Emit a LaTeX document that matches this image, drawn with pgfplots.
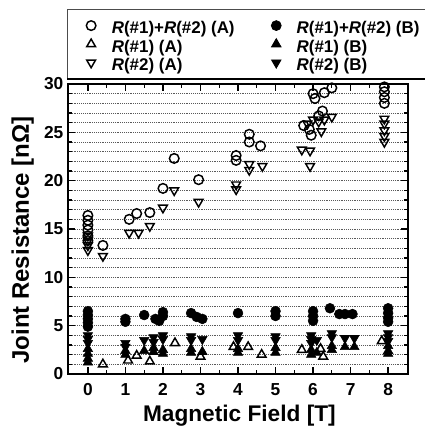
\documentclass[border=0pt]{standalone}
\usepackage{fontspec}
\setmainfont{Liberation Sans}
\usepackage{pgfplots}
\pgfplotsset{compat=1.18}

\begin{document}
\begin{tikzpicture}
\begin{axis}[
  scale only axis,
  width=255pt, height=217.5pt,
  xmin=-0.53, xmax=8.53, ymin=0, ymax=30,
  xtick={0,...,8}, minor x tick num=1,
  ytick={0,5,...,30}, minor y tick num=4,
  tick align=inside,
  major tick length=5pt, minor tick length=3pt,
  every tick/.style={black, line width=1pt},
  axis line style={line width=1.3pt},
  ymajorgrids, yminorgrids,
  major grid style={densely dotted, black!65, line width=0.7pt},
  minor grid style={densely dotted, black!65, line width=0.7pt},
  /pgf/number format/assume math mode=true,
  ticklabel style={font=\bfseries\fontsize{13}{13}\selectfont},
  xticklabel style={yshift=-3.5pt},
  xlabel={Magnetic Field [T]},
  ylabel={Joint Resistance [nΩ]},
  every axis x label/.style={at={(axis description cs:0.504,-0.1655)}, anchor=base,
    font=\bfseries\fontsize{17}{17}\selectfont},
  every axis y label/.style={at={(axis description cs:-0.133,0.462)}, anchor=center,
    rotate=90, font=\bfseries\fontsize{18}{18}\selectfont},
  legend columns=2,
  legend cell align=left,
  legend style={name=leg, at={(0,1)}, anchor=south west, xshift=-0.75pt, yshift=3.75pt,
    draw=black!70, line width=0.6pt, inner xsep=0pt, inner ysep=5pt,
    font=\bfseries\fontsize{12.7}{13}\selectfont,
    nodes={inner xsep=0pt, inner ysep=0pt, text height=12.9pt, text depth=1pt},
    column sep=0pt, row sep=0pt},
  legend image code/.code={\path (0pt,0pt) (32.25pt,0pt);
    \draw[#1] plot coordinates {(17.25pt,0pt)};},
  open/.style={only marks, black, line width=1.1pt, mark options={solid}},
  filled/.style={only marks, black, mark options={solid, fill=black}},
]

% R(#1)+R(#2) (A)
\addplot[open, mark=o, mark size=3.6pt] coordinates {
  (0,16.4) (0,15.9) (0,15.4) (0,14.9) (0,14.3) (0,13.8)
  (0.4,13.3)
  (1.1,16.0) (1.3,16.6) (1.65,16.7) (2.0,19.2) (2.3,22.3) (2.95,20.1)
  (3.95,22.6) (3.95,22.1) (4.3,24.8) (4.3,24.0) (4.6,23.6)
  (5.75,25.7) (5.9,25.3) (5.95,24.7) (6.0,29.0) (6.05,28.5) (6.3,29.1)
  (6.5,29.6) (6.25,27.2) (6.15,26.7)
  (7.9,29.7) (7.9,29.2) (7.9,28.6) (7.9,28.0)
};
\addlegendentry{\makebox[105.75pt][l]{\textit{R}(\#1)+\textit{R}(\#2) (A)}}

% R(#1)+R(#2) (B)
\addplot[filled, mark=*, mark size=3.7pt] coordinates {
  (0,6.5) (0,6.1) (0,5.7) (0,5.3) (0,4.9)
  (1.0,5.7) (1.0,5.4)
  (1.5,6.1) (1.8,5.7) (1.9,5.5) (2.0,6.4) (2.0,6.0)
  (2.75,6.3) (2.9,5.9) (3.05,5.7)
  (4.0,6.3)
  (5.0,6.5) (5.0,6.0)
  (6.0,6.5) (6.0,6.0) (6.0,5.5) (6.45,6.8) (6.7,6.2) (6.85,6.2) (7.05,6.2)
  (8.0,6.8) (8.0,6.3) (8.0,5.8) (8.0,5.4)
};
\addlegendentry{\makebox[110pt][l]{\textit{R}(\#1)+\textit{R}(\#2) (B)}}

% R(#1) (A)
\addplot[open, mark=triangle, mark size=3.8pt] coordinates {
  (0.4,1.0) (1.07,1.4) (1.3,1.9) (1.65,1.3) (2.32,3.2) (3.0,1.8)
  (3.88,2.8) (4.27,2.8) (4.63,2.0) (5.7,2.5) (6.2,2.6) (6.27,1.8) (7.83,3.4)
};
\addlegendentry{\textit{R}(\#1) (A)}

% R(#1) (B)
\addplot[filled, mark=triangle*, mark size=4.1pt] coordinates {
  (0,2.6) (0,2.1) (0,1.6) (0,1.2)
  (1.0,2.4) (1.0,2.0) (1.5,2.4) (1.75,2.7) (1.75,2.3) (2.0,2.5) (2.0,2.1)
  (2.75,2.6) (2.75,2.2) (3.05,2.3)
  (4.0,2.6) (4.0,2.2) (5.0,2.7) (5.0,2.2)
  (5.95,2.5) (5.95,2.0) (6.1,2.2) (6.5,2.9) (6.5,2.5) (6.85,2.8) (7.1,2.8)
  (8.0,2.9) (8.0,2.4) (8.0,2.1)
};
\addlegendentry{\textit{R}(\#1) (B)}

% R(#2) (A)
\addplot[open, mark=triangle, mark size=3.8pt, mark options={rotate=180}] coordinates {
  (0,14.3) (0,13.8) (0,13.3) (0,12.8) (0.4,12.2)
  (1.1,14.6) (1.35,14.6) (1.65,15.3) (2.0,17.2) (2.3,19.0) (2.95,17.8)
  (3.95,19.6) (3.95,19.1) (4.3,21.7) (4.3,21.1) (4.65,21.5)
  (5.7,23.2) (5.92,23.1) (5.92,21.5) (6.0,26.3) (5.85,25.9) (6.22,25.1)
  (6.15,26.1) (6.3,26.3) (6.5,26.6)
  (7.9,26.4) (7.9,25.9) (7.9,25.2) (7.9,24.6) (7.9,24.0)
};
\addlegendentry{\textit{R}(\#2) (A)}

% R(#2) (B)
\addplot[filled, mark=triangle*, mark size=4.1pt, mark options={rotate=180}] coordinates {
  (0,4.0) (0,3.6) (0,3.2)
  (1.0,3.2) (1.0,2.8) (1.5,3.5) (1.75,3.8) (1.75,3.3) (2.0,4.0) (2.0,3.6)
  (2.75,3.9) (2.75,3.5) (3.05,3.6)
  (4.0,4.0) (4.0,3.5) (5.0,3.9) (5.0,3.5)
  (5.95,4.0) (5.95,3.6) (5.95,3.2) (6.1,3.5) (6.5,4.2) (6.5,3.8) (6.85,3.7) (7.1,3.7)
  (8.0,4.2) (8.0,3.8) (8.0,3.4)
};
\addlegendentry{\textit{R}(\#2) (B)}

\end{axis}
\draw[line width=2.2pt] (leg.south west) -- ++(330pt,0pt);
\pgfresetboundingbox
\path[use as bounding box] (current axis.south west) ++(-51pt,-39.75pt) rectangle ++(318pt,320.25pt);
\end{tikzpicture}
\end{document}
